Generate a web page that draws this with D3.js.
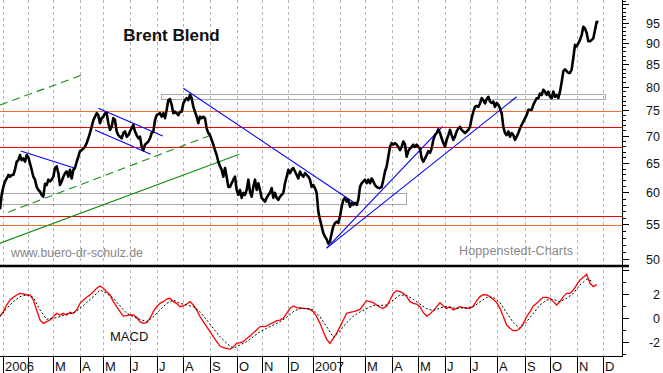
<!DOCTYPE html>
<html>
<head>
<meta charset="utf-8">
<script src="https://cdn.jsdelivr.net/npm/d3@7"></script>
<style>
  body { margin: 0; background: #fff; }
  svg { display: block; font-family: "Liberation Sans", Arial, sans-serif; }
</style>
</head>
<body>
<div id="chart"></div>
<script>
// ---------------------------------------------
// Brent Blend – daily close (log scale) + MACD
// ---------------------------------------------

// closes, one value per bar (bar 0 = early Jan 2006)
const closes = [
  57.3, 59.6, 60.9, 61.8, 62.3, 62.9, 62.6, 62.9, 62.9, 63.8,
  65.2, 65.5, 66.4, 65.5, 65.8, 65.2, 66.4, 66.0, 64.9, 63.8,
  62.6, 62.1, 60.9, 60.4, 60.1, 59.6, 59.3, 61.4, 61.2, 62.1,
  61.8, 62.1, 62.6, 64.1, 64.4, 63.2, 61.2, 61.8, 62.6, 63.2,
  63.5, 62.6, 63.8, 62.3, 63.8, 64.1, 65.2, 66.1, 67.1, 67.3,
  67.6, 67.9, 68.6, 69.5, 70.5, 71.7, 73.0, 73.7, 74.4, 74.0,
  72.4, 73.4, 73.7, 74.4, 74.4, 72.4, 71.1, 71.7, 73.4, 73.0,
  70.8, 70.1, 69.8, 69.5, 70.5, 70.8, 69.8, 70.1, 70.8, 71.4,
  72.1, 70.8, 70.1, 69.5, 69.8, 67.9, 67.3, 68.3, 68.6, 68.9,
  69.5, 70.5, 70.8, 73.0, 74.0, 74.2,
  74.4, 73.7, 74.4, 73.4, 75.1, 77.1, 77.3, 76.1, 74.4, 74.7,
  74.4, 74.0, 74.7, 74.7, 76.4, 77.1, 77.5, 77.1, 78.2, 77.5,
  75.7, 74.7, 73.7, 72.4, 73.7, 73.4, 73.7, 73.4, 71.4, 70.5,
  70.1, 69.2, 68.3, 67.3, 66.4, 65.2, 64.4, 63.8, 62.6, 64.1,
  62.6, 60.9, 60.9, 61.5, 62.1, 62.6, 60.4, 59.6, 60.4, 59.1,
  59.9, 59.6, 60.4, 62.1, 60.1, 59.3, 60.9, 62.1, 60.4, 61.5,
  60.4, 59.1, 58.8, 58.5, 59.1, 59.6, 59.9, 60.7, 59.1, 59.9,
  59.1, 58.8, 59.3, 59.6, 59.9, 61.5, 62.6, 63.8, 63.2, 63.8,
  64.1, 63.5, 62.9, 62.3, 63.5, 62.9, 62.6, 63.2, 62.9, 62.6,
  62.1, 60.9, 61.2, 60.7, 59.9,
  56.9, 55.7, 54.7, 53.7, 53.2, 52.8, 52.2, 52.5, 53.7,
  54.7, 55.2, 55.4, 55.2, 56.2, 57.7, 58.8, 59.1, 58.5, 58.8,
  57.7, 58.3, 58.0, 58.3, 58.0, 58.8, 60.9, 61.5, 61.8, 62.1,
  61.5, 62.1, 61.5, 62.3, 61.8, 61.2, 60.9, 60.7, 60.7, 60.9,
  62.1, 63.5, 64.4, 66.1, 67.9, 68.6, 68.3, 68.6, 68.3, 67.9,
  67.3, 67.9, 68.9, 68.3, 66.1, 67.1, 67.6, 67.9, 68.3, 67.9,
  68.3, 67.9, 67.6, 65.8, 65.2, 65.8, 66.4, 67.1, 66.8, 67.6,
  69.2, 70.1, 70.5, 71.2, 70.5, 69.5, 68.6, 67.9, 69.2, 70.1,
  71.1, 70.1, 69.2, 69.8, 70.8, 71.4, 71.7, 71.1, 70.8, 70.5,
  70.8, 71.1,
  71.7, 73.4, 74.7, 75.7, 75.9, 75.7, 76.4, 77.5,
  77.1, 76.4, 77.3, 77.8, 76.8, 76.5, 76.8, 75.7, 76.5, 76.1,
  75.4, 74.4, 71.7, 70.5, 70.1, 70.8, 69.8, 70.5, 70.1, 69.2,
  69.8, 70.5, 71.4, 72.1, 72.7, 73.4, 74.0, 75.1, 75.1, 75.1,
  76.1, 76.8, 77.5, 77.5, 78.5, 78.2, 79.3, 78.9, 78.2, 78.9,
  77.8, 77.5, 78.9, 77.8, 78.2, 77.5, 78.9, 81.0, 83.4, 83.8,
  83.4, 83.0, 83.0, 83.8, 86.5, 89.6, 89.2, 90.0, 90.8, 92.0,
  94.1, 93.7, 92.5, 90.5, 90.5, 90.8, 91.2, 93.3, 95.4, 95.2
];

// MACD line, one value every 2 bars
const macdStep = 2;
const macd = [
  0.12, 0.49, 1.04, 1.46, 1.68, 1.88, 2.01, 1.96, 1.88, 1.88,
  1.46, 0.63, -0.21, -0.49, -0.35, -0.21, 0.07, 0.35, 0.21, 0.35,
  0.21, 0.43, 0.35, 0.63, 1.18, 1.46, 1.68, 1.88, 2.15, 2.43,
  2.63, 2.43, 2.15, 1.88, 1.32, 0.90, 0.49, 0.12, 0.15, 0.21,
  0.21, 0.02, -0.35, -0.49, -0.43, -0.07, 0.49, 0.90, 1.18, 1.32,
  1.54, 1.60, 1.32, 1.18, 0.90, 0.96, 1.12, 1.32, 1.04, 0.63,
  0.07, -0.35, -0.76, -1.18, -1.60, -2.01, -2.38, -2.51, -2.57, -2.65,
  -2.43, -2.15, -2.10, -2.01, -1.74, -1.54, -1.26, -1.04, -0.76, -0.76,
  -0.71, -0.54, -0.43, -0.26, -0.21, -0.07, 0.35, 0.76, 0.96, 0.82,
  0.79, 0.76, 0.74, 0.68, 0.49, 0.07, -0.49, -1.18, -1.82, -2.15,
  -1.74, -1.32, -0.76, -0.21, 0.35, 0.43, 0.49, 0.57, 0.68, 1.04,
  1.40, 1.32, 1.24, 1.04, 0.85, 0.76, 0.96, 1.46, 2.01, 2.24,
  2.15, 2.01, 1.74, 1.32, 1.18, 1.12, 0.90, 0.40, 0.12, 0.29,
  0.57, 0.90, 1.24, 0.96, 0.76, 0.90, 0.63, 0.76, 0.90, 0.82,
  0.76, 0.76, 0.96, 1.40, 1.74, 1.90, 1.88, 1.74, 1.51, 1.24,
  0.76, 0.07, -0.63, -0.90, -1.10, -1.10, -0.90, -0.49, 0.07, 0.49,
  0.96, 1.18, 1.46, 1.68, 1.68, 1.60, 1.32, 1.04, 1.32, 1.74,
  2.01, 2.01, 2.29, 2.71, 3.13, 3.35, 3.60, 2.85, 2.57, 2.74
];

// signal line, one value every 4 bars
const signalStep = 4;
const signal = [
  0.07, 0.76, 1.32, 1.74, 1.88, 1.68, 0.63, -0.15, -0.07, 0.07,
  0.29, 0.35, 0.76, 1.24, 1.74, 2.29, 2.01, 1.60, 0.96, 0.35,
  0.07, -0.15, -0.35, 0.07, 0.63, 1.18, 1.46, 1.18, 1.04, 0.90,
  0.49, -0.21, -0.90, -1.60, -2.15, -2.57, -2.29, -2.01, -1.60, -1.18,
  -0.90, -0.63, -0.35, 0.02, 0.49, 0.76, 0.76, 0.63, 0.07, -0.76,
  -1.65, -1.10, -0.43, 0.12, 0.46, 0.74, 1.01, 1.01, 1.04, 1.46,
  1.88, 1.85, 1.51, 1.12, 0.74, 0.57, 0.79, 0.90, 0.79, 0.79,
  0.82, 0.90, 1.29, 1.68, 1.68, 1.24, 0.40, -0.43, -0.90, -0.35,
  0.35, 1.04, 1.46, 1.51, 1.32, 1.60, 2.01, 2.71, 3.18, 2.98
];

// month boundaries (bar position) and labels
const monthBars = [2, 17, 32, 48, 62, 78, 94, 110, 126, 142, 157, 173,
                   188, 204, 219, 235, 251, 267, 282, 298, 315, 330, 346, 362];
const monthLabels = ["2006", "", "M", "A", "M", "J", "J", "A", "S", "O", "N", "D",
                     "2007", "", "M", "A", "M", "J", "J", "A", "S", "O", "N", "D"];

// drawn annotations: [bar, price] pairs
const blueTrends = [
  [[12.4, 67.15], [45, 64.07]],
  [[59, 75.41], [97.6, 69.94]],
  [[57, 71.09], [90.4, 66.55]],
  [[110, 79.62], [215, 57.9]],
  [[196, 51.55], [265.6, 71.8]],
  [[196, 51.55], [310, 77.8]]
];
const greenDashedTrends = [
  [[0, 76.08], [51, 82.78]],
  [[5, 56.85], [126, 70.03]]
];
const greenSolidTrends = [
  [[0, 52.25], [143.6, 66.55]]
];
const zones = [
  { from: 96.8, to: 363.2, lo: 77.27, hi: 78.33 },
  { from: -3, to: 243.4, lo: 58.09, hi: 59.86 }
];
const orangeLevels = [74.8, 54.9];
const redLevels = [71.6, 67.9, 56.2];

const priceTicksMajor = d3.range(50, 101, 5);
const priceLabels = d3.range(50, 96, 5);
const macdTicks = d3.range(-3, 5);
const macdLabels = [2, 0, -2];

// ---------------------------------------------
// layout
// ---------------------------------------------
const width = 663, height = 373;
const plotRight = 622;
const priceBottom = 265;
const macdTop = 267;
const axisY = 356;

const svg = d3.select("#chart").append("svg")
  .attr("width", width)
  .attr("height", height);

const x = d3.scaleLinear().domain([0, 373.2]).range([0, plotRight]);
const yP = d3.scaleLog().domain([50, 95]).range([259.4, 23.3]);
const yM = d3.scaleLinear().domain([-3, 4]).range([353.5, 269.5]);

const defs = svg.append("defs");
defs.append("clipPath").attr("id", "clipPrice")
  .append("rect").attr("x", 0).attr("y", 0).attr("width", plotRight).attr("height", priceBottom);
defs.append("clipPath").attr("id", "clipMacd")
  .append("rect").attr("x", 0).attr("y", macdTop).attr("width", plotRight).attr("height", axisY - macdTop);

// vertical month grid
svg.append("g")
  .selectAll("line")
  .data(monthBars)
  .join("line")
  .attr("x1", d => Math.round(x(d)) + 0.5)
  .attr("x2", d => Math.round(x(d)) + 0.5)
  .attr("y1", 0)
  .attr("y2", axisY)
  .attr("stroke", "#b4b4b4")
  .attr("stroke-dasharray", "3,3");

// ---- price panel ----
const price = svg.append("g").attr("clip-path", "url(#clipPrice)");

price.selectAll("rect.zone")
  .data(zones)
  .join("rect")
  .attr("class", "zone")
  .attr("x", d => Math.round(x(d.from)) + 0.5)
  .attr("y", d => Math.round(yP(d.hi)) + 0.5)
  .attr("width", d => Math.round(x(d.to) - x(d.from)))
  .attr("height", d => Math.round(yP(d.lo) - yP(d.hi)))
  .attr("fill", "none")
  .attr("stroke", "#555")
  .attr("stroke-dasharray", "1,1");

function levels(values, color) {
  price.append("g")
    .selectAll("line")
    .data(values)
    .join("line")
    .attr("x1", 0)
    .attr("x2", plotRight)
    .attr("y1", d => Math.round(yP(d)) + 0.5)
    .attr("y2", d => Math.round(yP(d)) + 0.5)
    .attr("stroke", color)
    .attr("stroke-width", 1);
}
levels(orangeLevels, "#f07030");
levels(redLevels, "#f00000");

function trends(list, color, dash) {
  price.append("g")
    .selectAll("line")
    .data(list)
    .join("line")
    .attr("x1", d => x(d[0][0]))
    .attr("y1", d => yP(d[0][1]))
    .attr("x2", d => x(d[1][0]))
    .attr("y2", d => yP(d[1][1]))
    .attr("stroke", color)
    .attr("stroke-width", 1.1)
    .attr("stroke-dasharray", dash);
}
trends(greenDashedTrends, "#119011", "8,5");
trends(greenSolidTrends, "#119011", null);
trends(blueTrends, "#0000ff", null);

price.append("path")
  .datum(closes)
  .attr("fill", "none")
  .attr("stroke", "#000")
  .attr("stroke-width", 2.6)
  .attr("stroke-linejoin", "round")
  .attr("d", d3.line().x((d, i) => x(i)).y(d => yP(d)));

// texts
svg.append("text")
  .attr("x", 171.5).attr("y", 40.5)
  .attr("text-anchor", "middle")
  .attr("font-size", 17).attr("font-weight", "bold")
  .attr("fill", "#111")
  .text("Brent Blend");

svg.append("text")
  .attr("x", 11).attr("y", 256.5)
  .attr("font-size", 12.3)
  .attr("fill", "#888")
  .text("www.buero-dr-schulz.de");

svg.append("text")
  .attr("x", 459).attr("y", 255)
  .attr("font-size", 12.5)
  .attr("fill", "#888")
  .attr("textLength", 114)
  .text("Hoppenstedt-Charts");

// panel separator
svg.append("line")
  .attr("x1", 0).attr("x2", 629)
  .attr("y1", 266).attr("y2", 266)
  .attr("stroke", "#000")
  .attr("stroke-width", 2.5);

// ---- MACD panel ----
const macdG = svg.append("g").attr("clip-path", "url(#clipMacd)");

macdG.append("path")
  .datum(macd)
  .attr("fill", "none")
  .attr("stroke", "#ff0000")
  .attr("stroke-width", 1.3)
  .attr("d", d3.line().x((d, i) => x(i * macdStep)).y(d => yM(d)));

macdG.append("path")
  .datum(signal)
  .attr("fill", "none")
  .attr("stroke", "#000")
  .attr("stroke-width", 1)
  .attr("stroke-dasharray", "2,2")
  .attr("d", d3.line().x((d, i) => x(i * signalStep)).y(d => yM(d)));

svg.append("text")
  .attr("x", 110).attr("y", 341)
  .attr("font-size", 13)
  .attr("fill", "#111")
  .text("MACD");

// ---- right axis ----
const axis = svg.append("g").attr("stroke", "#000");
axis.append("line")
  .attr("x1", plotRight + 0.5).attr("x2", plotRight + 0.5)
  .attr("y1", 0).attr("y2", axisY);

const minorPrice = d3.range(50, 102).filter(v => v % 5 !== 0);
axis.selectAll("line.pminor")
  .data(minorPrice)
  .join("line")
  .attr("class", "pminor")
  .attr("x1", plotRight).attr("x2", plotRight + 4)
  .attr("y1", d => Math.round(yP(d)) + 0.5)
  .attr("y2", d => Math.round(yP(d)) + 0.5);
axis.selectAll("line.pmajor")
  .data(priceTicksMajor)
  .join("line")
  .attr("class", "pmajor")
  .attr("x1", plotRight).attr("x2", plotRight + 7)
  .attr("y1", d => Math.round(yP(d)) + 0.5)
  .attr("y2", d => Math.round(yP(d)) + 0.5);
axis.selectAll("line.mtick")
  .data(macdTicks)
  .join("line")
  .attr("class", "mtick")
  .attr("x1", plotRight)
  .attr("x2", d => plotRight + (d % 2 === 0 ? 7 : 4))
  .attr("y1", d => Math.round(yM(d)) + 0.5)
  .attr("y2", d => Math.round(yM(d)) + 0.5);

svg.append("g")
  .selectAll("text")
  .data(priceLabels)
  .join("text")
  .attr("x", 660)
  .attr("y", d => yP(d) + 5)
  .attr("text-anchor", "end")
  .attr("font-size", 12.5)
  .attr("fill", "#111")
  .text(d => d);

svg.append("g")
  .selectAll("text")
  .data(macdLabels)
  .join("text")
  .attr("x", 660)
  .attr("y", d => yM(d) + 5)
  .attr("text-anchor", "end")
  .attr("font-size", 12.5)
  .attr("fill", "#111")
  .text(d => d);

// ---- bottom time axis ----
const bottom = svg.append("g");
bottom.append("line")
  .attr("x1", 0).attr("x2", plotRight + 1)
  .attr("y1", axisY + 0.5).attr("y2", axisY + 0.5)
  .attr("stroke", "#000");

bottom.selectAll("line.mt")
  .data(monthBars)
  .join("line")
  .attr("class", "mt")
  .attr("x1", d => Math.round(x(d)) + 0.5)
  .attr("x2", d => Math.round(x(d)) + 0.5)
  .attr("y1", axisY)
  .attr("y2", height)
  .attr("stroke", "#000");

bottom.selectAll("text")
  .data(monthBars)
  .join("text")
  .attr("x", d => Math.round(x(d)) + 2)
  .attr("y", 370.5)
  .attr("font-size", 13)
  .attr("fill", "#111")
  .text((d, i) => monthLabels[i]);
</script>
</body>
</html>
